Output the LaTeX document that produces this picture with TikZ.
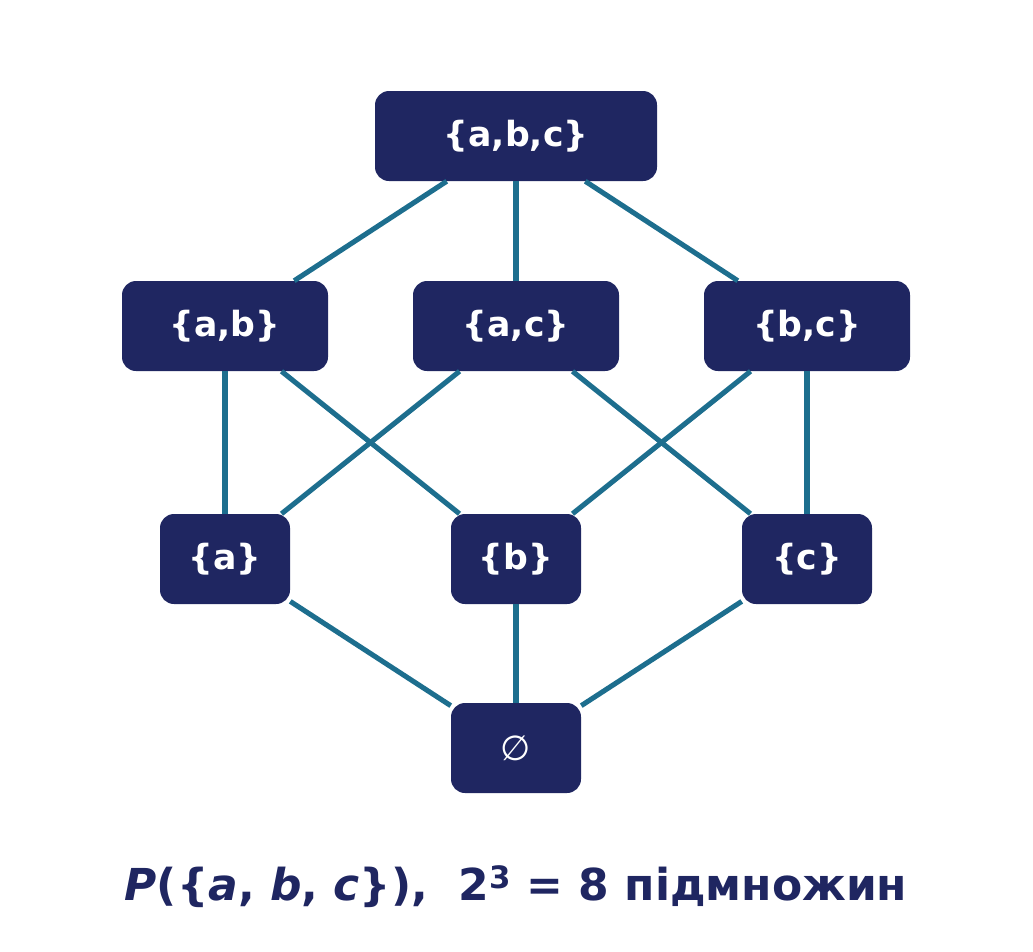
\documentclass[tikz,border=0pt]{standalone}
\usepackage{fontspec}
\setmainfont{DejaVu Sans}
\usepackage{tikz}
\usetikzlibrary{positioning}
\definecolor{setnavy}{HTML}{1F2661}
\definecolor{edgeteal}{HTML}{1D6E8E}
\tikzset{
  subset/.style={fill=setnavy, rounded corners=10.5pt, text=white, font=\bfseries\fontsize{26}{30}\selectfont,
    minimum height=67.5pt, inner sep=0pt},
  link/.style={draw=edgeteal, line width=3.8pt}
}
\begin{document}
\begin{tikzpicture}[x=0.75pt,y=-0.75pt]
    \useasboundingbox (0,0) rectangle (1033,951);
    % nodes by rank
    \node[subset, minimum width=211.5pt] (abc) at (516,136) {\{a,b,c\}};
    \node[subset, minimum width=154.5pt] (ab) at (225,326) {\{a,b\}};
    \node[subset, minimum width=154.5pt] (ac) at (516,326) {\{a,c\}};
    \node[subset, minimum width=154.5pt] (bc) at (807,326) {\{b,c\}};
    \node[subset, minimum width=97.5pt] (a) at (225,559) {\{a\}};
    \node[subset, minimum width=97.5pt] (b) at (516,559) {\{b\}};
    \node[subset, minimum width=97.5pt] (c) at (807,559) {\{c\}};
    \node[subset, minimum width=97.5pt, font=\fontsize{26}{30}\selectfont] (empty) at (516,748) {∅};

    % covering relations
    \begin{scope}[on background layer/.style={}]
    \end{scope}
    \foreach \u/\v in {abc/ab,abc/ac,abc/bc,ab/a,ab/b,ac/a,ac/c,bc/b,bc/c,a/empty,b/empty,c/empty}
        \draw[link] (\u) -- (\v);

    % caption
    \node[text=setnavy, font=\bfseries\fontsize{33}{38}\selectfont] (caption) at (516,887)
        {\textit{P}(\{\textit{a}, \textit{b}, \textit{c}\}),\ \ 2\textsuperscript{3} = 8 підмножин};
\end{tikzpicture}
\end{document}
